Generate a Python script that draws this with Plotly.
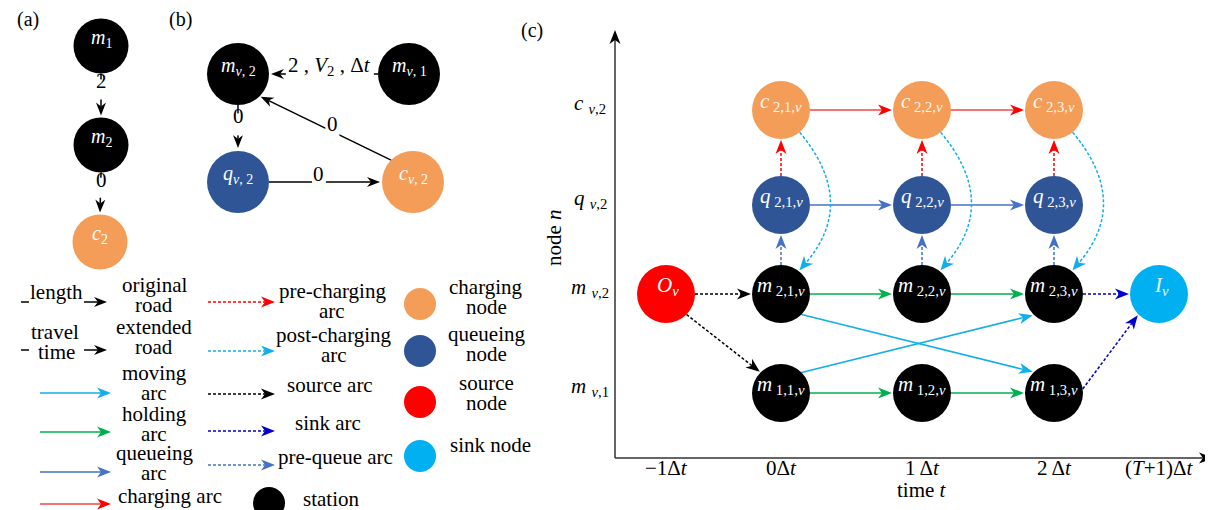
import math
import plotly.graph_objects as go

W, H = 1213, 510
SERIF = "Liberation Serif"

# ======================= data =======================
# panel (a): original road network
a_node_ids = ["m1", "m2", "c2"]
a_node_kind = ["station", "station", "charging"]
a_node_text = ["<i>m</i><sub>1</sub>", "<i>m</i><sub>2</sub>", "<i>c</i><sub>2</sub>"]
a_arc_from = ["m1", "m2"]
a_arc_to = ["m2", "c2"]
a_arc_label = ["2", "0"]

# panel (b): extended road network
b_node_ids = ["mv2", "mv1", "qv2", "cv2"]
b_node_kind = ["station", "station", "queueing", "charging"]
b_node_text = ["<i>m</i><sub><i>v</i>, 2</sub>", "<i>m</i><sub><i>v</i>, 1</sub>",
               "<i>q</i><sub><i>v</i>, 2</sub>", "<i>c</i><sub><i>v</i>, 2</sub>"]
b_arc_from = ["mv1", "mv2", "qv2", "cv2"]
b_arc_to = ["mv2", "qv2", "cv2", "mv2"]
b_arc_label = ["2 , <i>V</i><sub>2</sub> , Δ<i>t</i>", "0", "0", "0"]

# panel (c): time-expanded network
time_labels = ["−1Δ<i>t</i>", "0Δ<i>t</i>", "1 Δ<i>t</i>", "2 Δ<i>t</i>", "(<i>T</i>+1)Δ<i>t</i>"]
row_labels = ["<i>m</i> <sub><i>v</i>,1</sub>", "<i>m</i> <sub><i>v</i>,2</sub>",
              "<i>q</i> <sub><i>v</i>,2</sub>", "<i>c</i> <sub><i>v</i>,2</sub>"]
c_node_ids = ["O", "m21", "m22", "m23", "m11", "m12", "m13",
              "q21", "q22", "q23", "c21", "c22", "c23", "I"]
c_node_time = [0, 1, 2, 3, 1, 2, 3, 1, 2, 3, 1, 2, 3, 4]
c_node_row = [1, 1, 1, 1, 0, 0, 0, 2, 2, 2, 3, 3, 3, 1]
c_node_kind = ["source"] + ["station"] * 6 + ["queueing"] * 3 + ["charging"] * 3 + ["sink"]
c_node_text = ["<i>O<sub>v</sub></i>",
               "<i>m</i><sub> 2,1,<i>v</i></sub>", "<i>m</i><sub> 2,2,<i>v</i></sub>", "<i>m</i><sub> 2,3,<i>v</i></sub>",
               "<i>m</i><sub> 1,1,<i>v</i></sub>", "<i>m</i><sub> 1,2,<i>v</i></sub>", "<i>m</i><sub> 1,3,<i>v</i></sub>",
               "<i>q</i><sub> 2,1,<i>v</i></sub>", "<i>q</i><sub> 2,2,<i>v</i></sub>", "<i>q</i><sub> 2,3,<i>v</i></sub>",
               "<i>c</i><sub> 2,1,<i>v</i></sub>", "<i>c</i><sub> 2,2,<i>v</i></sub>", "<i>c</i><sub> 2,3,<i>v</i></sub>",
               "<i>I<sub>v</sub></i>"]
c_arc_from = ["c21", "c22", "q21", "q22", "q21", "q22", "q23", "m21", "m22", "m23",
              "c21", "c22", "c23", "m21", "m22", "m11", "m12", "m21", "m11",
              "O", "O", "m23", "m13"]
c_arc_to = ["c22", "c23", "q22", "q23", "c21", "c22", "c23", "q21", "q22", "q23",
            "m21", "m22", "m23", "m22", "m23", "m12", "m13", "m13", "m23",
            "m21", "m11", "I", "I"]
c_arc_kind = ["charging", "charging", "queueing", "queueing",
              "pre-charging", "pre-charging", "pre-charging",
              "pre-queue", "pre-queue", "pre-queue",
              "post-charging", "post-charging", "post-charging",
              "holding", "holding", "holding", "holding", "moving", "moving",
              "source", "source", "sink", "sink"]

# legend
leg1_text = [["original", "road"], ["extended", "road"], ["moving", "arc"],
             ["holding", "arc"], ["queueing", "arc"], ["charging arc"]]
leg1_kind = ["road", "road", "moving", "holding", "queueing", "charging"]
leg1_road_label = [["length"], ["travel", "time"]]
leg2_text = [["pre-charging", "arc"], ["post-charging", "arc"], ["source arc"],
             ["sink arc"], ["pre-queue arc"]]
leg2_kind = ["pre-charging", "post-charging", "source", "sink", "pre-queue"]
leg3_text = [["charging", "node"], ["queueing", "node"], ["source", "node"], ["sink node"], ["station"]]
leg3_kind = ["charging", "queueing", "source", "sink", "station"]

# ======================= styles / layout =======================
node_color = {"station": "#000000", "charging": "#F39D58", "queueing": "#2F5597",
              "source": "#FF0000", "sink": "#00B0F0"}
DOT = "3px,2px"
arc_style = {
    "road": ("#000000", "solid"),
    "charging": ("#F04444", "solid"),
    "queueing": ("#4472C4", "solid"),
    "holding": ("#00B050", "solid"),
    "moving": ("#12AEEA", "solid"),
    "pre-charging": ("#FF0000", DOT),
    "post-charging": ("#12AEEA", DOT),
    "source": ("#000000", DOT),
    "sink": ("#0000CC", DOT),
    "pre-queue": ("#4472C4", DOT),
}
head_color = {"charging": "#FF0000"}

a_pos = {"m1": (93, 38), "m2": (93, 137), "c2": (92, 234)}
A_D = 55
a_label_w = [12, 12]
b_pos = {"mv2": (230, 66), "mv1": (401, 66), "qv2": (230, 174), "cv2": (405, 174)}
B_D = 62
b_label_w = [88, 12, 14, 14]
col_x = [658, 773, 914, 1046, 1151]
row_y = [385, 286, 197, 102]
C_D = 58
FS = 21  # base text size

shapes, annotations, traces = [], [], []


def text(x, y, s, size=FS, color="black", angle=0, anchor="center"):
    off = 0.38 * size  # compensate the renderer's vertical placement
    if angle == 0:
        y = y - off
    else:
        x = x - off
    annotations.append(dict(x=x, y=y, xref="x", yref="y", text=s, showarrow=False,
                            font=dict(family=SERIF, size=size, color=color),
                            xanchor=anchor, yanchor="middle", textangle=angle))


def blank(cx, cy, w, h=24):
    shapes.append(dict(type="rect", x0=cx - w / 2, x1=cx + w / 2, y0=cy - h / 2, y1=cy + h / 2,
                       xref="x", yref="y", fillcolor="white", line=dict(width=0), layer="below"))


def unit(dx, dy):
    l = math.hypot(dx, dy)
    return dx / l, dy / l


def head(tx, ty, ux, uy, color, L=13, hw=5, notch=4):
    px, py = -uy, ux
    bx, by = tx - ux * L, ty - uy * L
    nx, ny = tx - ux * (L - notch), ty - uy * (L - notch)
    path = (f"M {tx:.2f},{ty:.2f} L {bx + px * hw:.2f},{by + py * hw:.2f} "
            f"L {nx:.2f},{ny:.2f} L {bx - px * hw:.2f},{by - py * hw:.2f} Z")
    shapes.append(dict(type="path", path=path, xref="x", yref="y",
                       fillcolor=color, line=dict(width=0), layer="below"))


def seg(x0, y0, x1, y1, color, dash="solid", width=1.5):
    shapes.append(dict(type="line", x0=x0, y0=y0, x1=x1, y1=y1, xref="x", yref="y",
                       line=dict(color=color, width=width, dash=dash), layer="below"))


def arrow(x0, y0, x1, y1, color, dash="solid", hcolor=None, width=1.5, L=13, hw=5, notch=4):
    ux, uy = unit(x1 - x0, y1 - y0)
    seg(x0, y0, x1 - ux * (L - notch), y1 - uy * (L - notch), color, dash, width)
    head(x1, y1, ux, uy, hcolor or color, L, hw, notch)


def nodes_trace(xs, ys, kinds, diam):
    traces.append(go.Scatter(x=xs, y=ys, mode="markers", hoverinfo="skip", showlegend=False,
                             marker=dict(size=diam, color=[node_color[k] for k in kinds],
                                         line=dict(width=0), opacity=1)))


# ---------------- panel (a) ----------------
text(20, 19, "(a)", 20)
nodes_trace([a_pos[n][0] for n in a_node_ids], [a_pos[n][1] for n in a_node_ids], a_node_kind, A_D)
for n, t in zip(a_node_ids, a_node_text):
    text(a_pos[n][0], a_pos[n][1], t, 20, "white")
for f, t, lab, w in zip(a_arc_from, a_arc_to, a_arc_label, a_label_w):
    (xa, ya), (xb, yb) = a_pos[f], a_pos[t]
    y0, y1 = ya + A_D / 2, yb - A_D / 2 - 2
    arrow(xa, y0, xb, y1, "black", L=13, hw=5)
    ly = y0 + 0.38 * (y1 - y0)
    blank(xa, ly, w, 20)
    text(xa, ly, lab, 21)

# ---------------- panel (b) ----------------
text(172, 19, "(b)", 20)
nodes_trace([b_pos[n][0] for n in b_node_ids], [b_pos[n][1] for n in b_node_ids], b_node_kind, B_D)
for n, t in zip(b_node_ids, b_node_text):
    text(b_pos[n][0], b_pos[n][1], t, 20, "white")
rb = B_D / 2
for f, t, lab, w in zip(b_arc_from, b_arc_to, b_arc_label, b_label_w):
    (xa, ya), (xb, yb) = b_pos[f], b_pos[t]
    if abs(ya - yb) < 3:
        s = 1 if xb > xa else -1
        p0, p1 = (xa + s * rb, ya), (xb - s * (rb + 2), yb)
    elif abs(xa - xb) < 3:
        s = 1 if yb > ya else -1
        p0, p1 = (xa, ya + s * rb), (xb, yb - s * (rb + 3))
    else:
        sx, sy = (1 if xb > xa else -1), (1 if yb > ya else -1)
        c = math.cos(math.pi / 4)
        p0 = (xa + sx * rb * c, ya + sy * rb * c)
        p1 = (xb - sx * (rb + 1) * c, yb - sy * (rb + 1) * c)
    arrow(p0[0], p0[1], p1[0], p1[1], "black", L=13, hw=5)
    tt = 0.45
    lx, ly = p0[0] + tt * (p1[0] - p0[0]), p0[1] + tt * (p1[1] - p0[1])
    blank(lx, ly, w, 22)
    text(lx, ly, lab, 21)

# ---------------- legend ----------------
leg1_y = [294, 342, 385, 424, 464, 496]
leg1_ty = [295, 337, 383, 424, 463, 496]
for i, (lines, kind) in enumerate(zip(leg1_text, leg1_kind)):
    col, dash = arc_style[kind]
    y = leg1_y[i]
    if kind == "road":
        seg(13, y, 21, y, "black")
        lab = leg1_road_label[i]
        if len(lab) == 1:
            text(48, y - 2, lab[0])
        else:
            text(47, y - 10, lab[0])
            text(48, y + 10, lab[1])
        arrow(76, y, 99, y, "black", L=13, hw=5)
    else:
        arrow(32, y, 103, y, col, dash, head_color.get(kind), L=14, hw=5.5)
    if len(lines) == 1:
        text(108, leg1_ty[i], lines[0], anchor="left")
    else:
        text(146, leg1_ty[i] - 10, lines[0])
        text(146, leg1_ty[i] + 10, lines[1])

leg2_y = [294, 343, 386, 423, 457]
leg2_tx = [324, 326, 322, 320, 327]
leg2_ty = [301, 345, 385, 423, 457]
for i, (lines, kind) in enumerate(zip(leg2_text, leg2_kind)):
    col, dash = arc_style[kind]
    arrow(200, leg2_y[i], 267, leg2_y[i], col, dash, L=14, hw=5.5)
    if len(lines) == 1:
        text(leg2_tx[i], leg2_ty[i], lines[0])
    else:
        text(leg2_tx[i], leg2_ty[i] - 10, lines[0])
        text(leg2_tx[i], leg2_ty[i] + 10, lines[1])

leg3_cx = [412, 412, 412, 412, 261]
leg3_cy = [296, 343, 394, 448, 495]
leg3_tx = [478, 478, 478, 482, 323]
leg3_ty = [297, 344, 393, 445, 499]
nodes_trace(leg3_cx, leg3_cy, leg3_kind, 32)
for i, lines in enumerate(leg3_text):
    if len(lines) == 1:
        text(leg3_tx[i], leg3_ty[i], lines[0])
    else:
        text(leg3_tx[i], leg3_ty[i] - 10, lines[0])
        text(leg3_tx[i], leg3_ty[i] + 10, lines[1])

# ---------------- panel (c) ----------------
text(524, 30, "(c)", 20)
AX0, AY0 = 607, 450
axc = "#333333"
arrow(AX0, AY0, AX0, 22, axc, hcolor="black", L=14, hw=5.5)
arrow(AX0, AY0, 1205, AY0, axc, hcolor="black", L=14, hw=5.5)
for i, lab in enumerate(time_labels):
    text(col_x[i], 468, lab)
text(914, 490, "time <i>t</i>")
for j, lab in enumerate(row_labels):
    text(582, row_y[j] + 2, lab)
text(554, 230, "node <i>n</i>", angle=-90)

cpos = {n: (col_x[t], row_y[r]) for n, t, r in zip(c_node_ids, c_node_time, c_node_row)}
nodes_trace([cpos[n][0] for n in c_node_ids], [cpos[n][1] for n in c_node_ids], c_node_kind, C_D)
for n, t, k in zip(c_node_ids, c_node_text, c_node_kind):
    colr = "#FFF6EE" if k == "charging" else ("#E8F6FD" if k == "sink" else "white")
    text(cpos[n][0] + (2 if k in ("source", "sink") else 0), cpos[n][1], t, 21, colr)

r = C_D / 2
c45 = math.cos(math.pi / 4)
for f, t, kind in zip(c_arc_from, c_arc_to, c_arc_kind):
    (xa, ya), (xb, yb) = cpos[f], cpos[t]
    col, dash = arc_style[kind]
    hc = head_color.get(kind)
    if kind == "post-charging":
        x0, y0 = xa + r * math.cos(math.radians(50)), ya + r * math.sin(math.radians(50))
        x1, y1 = xb + (r + 1) * math.cos(math.radians(-52)), yb + (r + 1) * math.sin(math.radians(-52))
        cx, cy = xa + 77, (ya + yb) / 2
        ux, uy = unit(x1 - cx, y1 - cy)
        L = 14
        ex, ey = x1 - ux * (L - 4), y1 - uy * (L - 4)
        shapes.append(dict(type="path", path=f"M {x0:.2f},{y0:.2f} Q {cx:.2f},{cy:.2f} {ex:.2f},{ey:.2f}",
                           xref="x", yref="y", line=dict(color=col, width=1.5, dash=dash), layer="below"))
        head(x1, y1, ux, uy, col, L=L, hw=6)
        continue
    if abs(ya - yb) < 1:
        p0, p1 = (xa + r, ya), (xb - r - 1, yb)
    elif abs(xa - xb) < 1:
        p0, p1 = (xa, ya - r), (xb, yb + r + 1)
    else:
        sx, sy = (1 if xb > xa else -1), (1 if yb > ya else -1)
        if kind == "sink":
            a0 = math.radians(-8)
            p0 = (xa + r * math.cos(a0), ya + r * math.sin(a0))
        else:
            p0 = (xa + sx * r * c45, ya + sy * r * c45)
        p1 = (xb - sx * (r + 1) * c45, yb - sy * (r + 1) * c45)
    arrow(p0[0], p0[1], p1[0], p1[1], col, dash, hc, L=14, hw=5.5)

fig = go.Figure(traces)
fig.update_layout(
    width=W, height=H, margin=dict(l=0, r=0, t=0, b=0),
    paper_bgcolor="white", plot_bgcolor="white", showlegend=False,
    font=dict(family=SERIF, size=FS, color="black"),
    xaxis=dict(range=[0, W], visible=False, fixedrange=True),
    yaxis=dict(range=[H, 0], visible=False, fixedrange=True),
    shapes=shapes, annotations=annotations,
)
fig.write_html("out.html")
